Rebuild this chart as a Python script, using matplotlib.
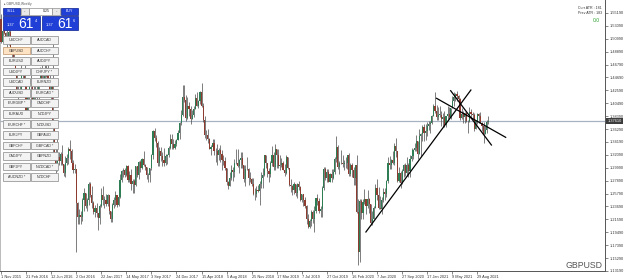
import numpy as np
import pandas as pd
import matplotlib
matplotlib.use("Agg")
import matplotlib.pyplot as plt
from matplotlib.patches import Rectangle
from matplotlib.transforms import blended_transform_factory

plt.rcParams['font.family'] = ['Liberation Sans', 'DejaVu Sans']

# GBPUSD weekly bars, first bar = week of 1 Nov 2015
first_open = 1.5425

close_2015 = [1.5042, 1.5230, 1.5190, 1.5040, 1.5125, 1.5215, 1.4900, 1.4860, 1.4740]
high_2015 = [1.5508, 1.5245, 1.5336, 1.5205, 1.5240, 1.5240, 1.5250, 1.4950, 1.4900]
low_2015 = [1.5027, 1.5030, 1.5170, 1.5015, 1.4895, 1.5000, 1.4880, 1.4800, 1.4710]

close_2016 = [1.4560, 1.4245, 1.4265, 1.4250, 1.4490, 1.4500, 1.4400, 1.3890, 1.4230, 1.4370,
              1.4450, 1.4125, 1.4210, 1.4130, 1.4200, 1.4400, 1.4620, 1.4430, 1.4360, 1.4490,
              1.4630, 1.4400, 1.4260, 1.4350, 1.3680, 1.3150, 1.2950, 1.3170, 1.3110, 1.3230,
              1.3055, 1.2920, 1.3080, 1.3160, 1.3305, 1.3270, 1.3070, 1.2970, 1.2975, 1.2430,
              1.2190, 1.2230, 1.2190, 1.2480, 1.2590, 1.2370, 1.2480, 1.2730, 1.2550, 1.2420,
              1.2280, 1.2340]
high_2016 = [1.4760, 1.4570, 1.4330, 1.4440, 1.4670, 1.4570, 1.4670, 1.4410, 1.4240, 1.4400,
             1.4515, 1.4460, 1.4460, 1.4350, 1.4340, 1.4440, 1.4640, 1.4770, 1.4515, 1.4665,
             1.4725, 1.4690, 1.4590, 1.4385, 1.5020, 1.3690, 1.3330, 1.3480, 1.3260, 1.3250,
             1.3370, 1.3060, 1.3185, 1.3230, 1.3340, 1.3445, 1.3310, 1.3125, 1.3055, 1.2975,
             1.2440, 1.2335, 1.2290, 1.2510, 1.2675, 1.2545, 1.2515, 1.2775, 1.2775, 1.2705,
             1.2460, 1.2400]
low_2016 = [1.4510, 1.4230, 1.4080, 1.4150, 1.4180, 1.4350, 1.4240, 1.3840, 1.3840, 1.4000,
            1.4050, 1.4100, 1.4050, 1.4005, 1.4000, 1.4120, 1.4360, 1.4330, 1.4330, 1.4330,
            1.4470, 1.4350, 1.4180, 1.4010, 1.3230, 1.3120, 1.2800, 1.2960, 1.3050, 1.3050,
            1.3050, 1.2865, 1.2850, 1.3050, 1.3060, 1.3150, 1.3045, 1.2915, 1.2915, 1.1620,
            1.2085, 1.2090, 1.2085, 1.2135, 1.2300, 1.2340, 1.2300, 1.2390, 1.2520, 1.2345,
            1.2250, 1.2200]

close_2017 = [1.2270, 1.2180, 1.2370, 1.2550, 1.2480, 1.2480, 1.2410, 1.2550, 1.2290, 1.2170,
              1.2400, 1.2470, 1.2550, 1.2390, 1.2530, 1.2800, 1.2950, 1.2970, 1.2880, 1.3030,
              1.2800, 1.2880, 1.2740, 1.2780, 1.2720, 1.3030, 1.2880, 1.3100, 1.3000, 1.3140,
              1.3045, 1.3010, 1.2875, 1.2880, 1.2995, 1.3200, 1.3590, 1.3490, 1.3400, 1.3070,
              1.3280, 1.3190, 1.3130, 1.3080, 1.3190, 1.3210, 1.3320, 1.3470, 1.3380, 1.3320,
              1.3380, 1.3450, 1.3570]
high_2017 = [1.2430, 1.2260, 1.2415, 1.2675, 1.2710, 1.2540, 1.2580, 1.2570, 1.2555, 1.2295,
             1.2420, 1.2520, 1.2615, 1.2555, 1.2560, 1.2905, 1.2960, 1.2990, 1.2990, 1.3050,
             1.3045, 1.2940, 1.2980, 1.2810, 1.2815, 1.3030, 1.3030, 1.3115, 1.3125, 1.3165,
             1.3265, 1.3060, 1.3000, 1.2920, 1.3000, 1.3225, 1.3615, 1.3650, 1.3530, 1.3430,
             1.3340, 1.3335, 1.3255, 1.3320, 1.3225, 1.3225, 1.3350, 1.3550, 1.3550, 1.3460,
             1.3445, 1.3460, 1.3615]
low_2017 = [1.2200, 1.1985, 1.2080, 1.2360, 1.2390, 1.2345, 1.2380, 1.2385, 1.2250, 1.2110,
            1.2110, 1.2350, 1.2380, 1.2365, 1.2385, 1.2515, 1.2770, 1.2845, 1.2845, 1.2870,
            1.2770, 1.2770, 1.2635, 1.2590, 1.2590, 1.2695, 1.2850, 1.2810, 1.2930, 1.2985,
            1.3025, 1.2955, 1.2810, 1.2775, 1.2775, 1.2960, 1.3140, 1.3440, 1.3340, 1.3030,
            1.3025, 1.3110, 1.3025, 1.3030, 1.3040, 1.3060, 1.3180, 1.3300, 1.3300, 1.3300,
            1.3310, 1.3360, 1.3465]

close_2018 = [1.3725, 1.3860, 1.4150, 1.4110, 1.3810, 1.4010, 1.3960, 1.3800, 1.3860, 1.3950,
              1.4140, 1.4000, 1.4090, 1.4240, 1.4010, 1.3770, 1.3530, 1.3540, 1.3460, 1.3310,
              1.3340, 1.3405, 1.3270, 1.3270, 1.3200, 1.3290, 1.3230, 1.3130, 1.3110, 1.3000,
              1.2760, 1.2710, 1.2840, 1.2960, 1.2925, 1.3070, 1.3080, 1.3030, 1.3120, 1.3155,
              1.3045, 1.2820, 1.2980, 1.2980, 1.2830, 1.2810, 1.2730, 1.2570, 1.2580, 1.2640,
              1.2620, 1.2740]
high_2018 = [1.3745, 1.3945, 1.4345, 1.4345, 1.4180, 1.4145, 1.4070, 1.4000, 1.3935, 1.4000,
             1.4200, 1.4240, 1.4100, 1.4250, 1.4377, 1.4050, 1.3840, 1.3620, 1.3625, 1.3490,
             1.3370, 1.3470, 1.3470, 1.3315, 1.3380, 1.3320, 1.3365, 1.3290, 1.3215, 1.3170,
             1.3000, 1.2790, 1.2935, 1.3045, 1.3010, 1.3140, 1.3300, 1.3300, 1.3140, 1.3255,
             1.3255, 1.3050, 1.3040, 1.3175, 1.3000, 1.2930, 1.2840, 1.2840, 1.2670, 1.2700,
             1.2720, 1.2785]
low_2018 = [1.3460, 1.3690, 1.3850, 1.4070, 1.3765, 1.3800, 1.3850, 1.3710, 1.3790, 1.3830,
            1.3950, 1.4000, 1.3970, 1.4040, 1.3990, 1.3750, 1.3490, 1.3450, 1.3410, 1.3305,
            1.3205, 1.3310, 1.3205, 1.3100, 1.3050, 1.3130, 1.3100, 1.2960, 1.3050, 1.2960,
            1.2720, 1.2660, 1.2720, 1.2800, 1.2785, 1.2855, 1.3060, 1.3010, 1.2920, 1.3000,
            1.3000, 1.2775, 1.2695, 1.2970, 1.2725, 1.2770, 1.2700, 1.2560, 1.2475, 1.2530,
            1.2600, 1.2400]

close_2019 = [1.2840, 1.2880, 1.3200, 1.3075, 1.2940, 1.2900, 1.3070, 1.3200, 1.3010, 1.3300,
              1.3210, 1.3030, 1.3040, 1.3080, 1.2970, 1.2920, 1.3180, 1.3000, 1.2715, 1.2710,
              1.2630, 1.2740, 1.2590, 1.2740, 1.2690, 1.2475, 1.2570, 1.2470, 1.2370, 1.2160,
              1.2030, 1.2140, 1.2285, 1.2160, 1.2290, 1.2500, 1.2460, 1.2290, 1.2330, 1.2670,
              1.2975, 1.2825, 1.2935, 1.2775, 1.2895, 1.2840, 1.2935, 1.3150, 1.3330, 1.3015,
              1.3070, 1.3085]
high_2019 = [1.2930, 1.2990, 1.3215, 1.3215, 1.3080, 1.2990, 1.3110, 1.3350, 1.3250, 1.3380,
             1.3300, 1.3300, 1.3200, 1.3160, 1.3115, 1.3060, 1.3200, 1.3165, 1.2990, 1.2810,
             1.2725, 1.2765, 1.2740, 1.2750, 1.2785, 1.2700, 1.2580, 1.2580, 1.2520, 1.2400,
             1.2250, 1.2170, 1.2310, 1.2310, 1.2385, 1.2505, 1.2580, 1.2500, 1.2370, 1.2700,
             1.3010, 1.3010, 1.2975, 1.2975, 1.2920, 1.2985, 1.2985, 1.3180, 1.3515, 1.3370,
             1.3115, 1.3285]
low_2019 = [1.2670, 1.2670, 1.2860, 1.3000, 1.2850, 1.2775, 1.2850, 1.3030, 1.2960, 1.2960,
            1.3000, 1.3000, 1.2960, 1.3010, 1.2960, 1.2865, 1.2900, 1.2980, 1.2710, 1.2605,
            1.2560, 1.2580, 1.2540, 1.2505, 1.2630, 1.2465, 1.2440, 1.2380, 1.2350, 1.2080,
            1.2015, 1.2015, 1.2050, 1.2100, 1.1960, 1.2260, 1.2390, 1.2270, 1.2205, 1.2195,
            1.2640, 1.2800, 1.2770, 1.2765, 1.2770, 1.2770, 1.2820, 1.2900, 1.3090, 1.2975,
            1.2905, 1.3055]

close_2020 = [1.3060, 1.3070, 1.3080, 1.3200, 1.2895, 1.3045, 1.2965, 1.2825, 1.3045, 1.2275,
              1.1630, 1.2460, 1.2260, 1.2450, 1.2490, 1.2370, 1.2490, 1.2405, 1.2100, 1.2170,
              1.2340, 1.2665, 1.2560, 1.2350, 1.2335, 1.2475, 1.2610, 1.2565, 1.2790, 1.3085,
              1.3050, 1.3120, 1.3085, 1.3350, 1.3280, 1.2790, 1.2920, 1.2750, 1.2945, 1.3040,
              1.2915, 1.3045, 1.2945, 1.3150, 1.3190, 1.3285, 1.3315, 1.3440, 1.3230, 1.3515,
              1.3555, 1.3670]
high_2020 = [1.3215, 1.3120, 1.3170, 1.3210, 1.3240, 1.3070, 1.3070, 1.3010, 1.3045, 1.3200,
             1.2485, 1.2485, 1.2485, 1.2490, 1.2650, 1.2480, 1.2645, 1.2500, 1.2410, 1.2300,
             1.2375, 1.2730, 1.2810, 1.2690, 1.2535, 1.2530, 1.2670, 1.2665, 1.2805, 1.3170,
             1.3185, 1.3145, 1.3265, 1.3395, 1.3480, 1.3280, 1.3005, 1.2950, 1.2980, 1.3060,
             1.3080, 1.3175, 1.3080, 1.3210, 1.3315, 1.3310, 1.3400, 1.3540, 1.3440, 1.3625,
             1.3560, 1.3690]
low_2020 = [1.3010, 1.2955, 1.3000, 1.2985, 1.2870, 1.2870, 1.2850, 1.2725, 1.2725, 1.2260,
            1.1409, 1.1470, 1.2160, 1.2165, 1.2410, 1.2250, 1.2350, 1.2265, 1.2075, 1.2070,
            1.2165, 1.2345, 1.2470, 1.2335, 1.2330, 1.2250, 1.2440, 1.2480, 1.2520, 1.2750,
            1.2980, 1.2980, 1.3055, 1.3050, 1.3175, 1.2760, 1.2765, 1.2675, 1.2740, 1.2845,
            1.2865, 1.2860, 1.2855, 1.2855, 1.3105, 1.3150, 1.3275, 1.3280, 1.3135, 1.3285,
            1.3190, 1.3430]

close_2021 = [1.3565, 1.3590, 1.3685, 1.3705, 1.3730, 1.3850, 1.4010, 1.3925, 1.3830, 1.3865,
              1.3865, 1.3790, 1.3830, 1.3700, 1.3840, 1.3870, 1.3820, 1.3965, 1.4090, 1.4150,
              1.4205, 1.4160, 1.4115, 1.3805, 1.3880, 1.3825, 1.3890, 1.3760, 1.3760, 1.3900,
              1.3875, 1.3865, 1.3625, 1.3760, 1.3870, 1.3835, 1.3735, 1.3675, 1.3550, 1.3615,
              1.3745, 1.3761]
high_2021 = [1.3705, 1.3710, 1.3745, 1.3760, 1.3765, 1.3865, 1.4040, 1.4240, 1.4015, 1.3990,
             1.4000, 1.3920, 1.3885, 1.3920, 1.3845, 1.4010, 1.3990, 1.3980, 1.4165, 1.4235,
             1.4220, 1.4250, 1.4190, 1.4135, 1.3975, 1.3930, 1.3910, 1.3910, 1.3785, 1.3985,
             1.3950, 1.3910, 1.3890, 1.3780, 1.3890, 1.3890, 1.3915, 1.3750, 1.3750, 1.3675,
             1.3775, 1.3835]
low_2021 = [1.3430, 1.3450, 1.3520, 1.3610, 1.3565, 1.3705, 1.3835, 1.3890, 1.3780, 1.3775,
            1.3830, 1.3675, 1.3670, 1.3670, 1.3670, 1.3800, 1.3815, 1.3800, 1.3990, 1.4010,
            1.4090, 1.4080, 1.4080, 1.3785, 1.3790, 1.3730, 1.3730, 1.3745, 1.3570, 1.3740,
            1.3810, 1.3795, 1.3600, 1.3625, 1.3710, 1.3725, 1.3730, 1.3600, 1.3410, 1.3545,
            1.3570, 1.3710]

close = np.array(close_2015 + close_2016 + close_2017 + close_2018 + close_2019 + close_2020 + close_2021)
high = np.array(high_2015 + high_2016 + high_2017 + high_2018 + high_2019 + high_2020 + high_2021)
low = np.array(low_2015 + low_2016 + low_2017 + low_2018 + low_2019 + low_2020 + low_2021)
opens = np.concatenate([[first_open], close[:-1]])
high = np.maximum(high, np.maximum(opens, close))
low = np.minimum(low, np.minimum(opens, close))

dates = pd.date_range('2015-11-01', periods=len(close), freq='7D')
last_price = 1.3761

# trend lines drawn on the chart (bar index, price)
trend_x = [[232.9, 299.9], [278.0, 322.1], [287.0, 313.0]]
trend_y = [[1.1954, 1.4265], [1.4130, 1.3495], [1.4254, 1.3370]]

price_ticks = [1.55190 - 0.021 * k for k in range(21)]

symbols_left = ['USDCHF', 'GBPUSD', 'EURUSD', 'USDJPY', 'USDCAD', 'AUDUSD', 'EURGBP *',
                'EURAUD', 'EURCHF *', 'EURJPY', 'GBPCHF', 'CADJPY', 'GBPJPY', 'AUDNZD *']
symbols_right = ['AUDCAD', 'AUDCHF', 'AUDJPY', 'CHFJPY *', 'EURNZD', 'EURCAD *', 'CADCHF',
                 'NZDJPY', 'NZDUSD', 'GBPAUD', 'GBPCAD *', 'GBPNZD', 'NZDCAD *', 'NZDCHF']

W, H = 625, 280
fig = plt.figure(figsize=(W / 100, H / 100), dpi=100)
ax = fig.add_axes([0, 9 / H, 605 / W, 271 / H])

idx = np.arange(len(close))
up = close >= opens
body_lo = np.minimum(opens, close)
body_h = np.maximum(np.abs(close - opens), 0.0007)
ax.vlines(idx, low, high, color='#4a4a4a', lw=0.5, zorder=2)
ax.bar(idx, body_h, bottom=body_lo, width=0.75,
       color=np.where(up, '#2f7d55', '#8e3b30'), edgecolor='none', zorder=3)

ax.axhline(last_price, color='#a7b3c3', lw=0.9, zorder=1)
for tx, ty in zip(trend_x, trend_y):
    ax.plot(tx, ty, color='black', lw=0.9, zorder=4)

ax.set_xlim(-0.64, 385.5)
ax.set_ylim(1.13188, 1.57306)

xt = idx[::16]
ax.set_xticks(xt)
ax.set_xticklabels([f"{d.day} {d.strftime('%b %Y')}" for d in dates[xt]],
                   fontsize=2.8, ha='left', color='#333333')
ax.tick_params(axis='x', length=2, width=0.5, pad=1, color='#555555')
ax.yaxis.tick_right()
ax.set_yticks(price_ticks)
ax.set_yticklabels([f"{v:.5f}" for v in price_ticks], fontsize=2.8, color='#333333')
ax.tick_params(axis='y', length=2, width=0.5, pad=1.5, color='#555555')
ax.spines['top'].set_visible(False)
ax.spines['left'].set_color('#b0b0b0')
ax.spines['left'].set_linewidth(0.6)
for s in ['right', 'bottom']:
    ax.spines[s].set_color('#555555')
    ax.spines[s].set_linewidth(0.7)

# last price box on the price scale
tr = blended_transform_factory(ax.transAxes, ax.transData)
ax.text(1.004, last_price, f"{last_price:.5f}", transform=tr, fontsize=2.8, color='white',
        va='center', ha='left', clip_on=False,
        bbox=dict(boxstyle='square,pad=0.25', fc='#3c3c3c', ec='none'))

# overlay in pixel coordinates for the terminal panels
ov = fig.add_axes([0, 0, 1, 1], zorder=10)
ov.set_xlim(0, W)
ov.set_ylim(H, 0)
ov.axis('off')
ov.patch.set_alpha(0)

ov.text(4, 3.5, '\u25b8 GBPUSD,Weekly', fontsize=2.3, color='#555555', va='center')

blue, blue_edge = '#1f3fd6', '#0b1f8f'
ov.add_patch(Rectangle((3, 8), 17, 7, fc=blue, ec=blue_edge, lw=0.5))
ov.text(11.5, 11.5, 'SELL', fontsize=2.6, color='white', ha='center', va='center')
ov.add_patch(Rectangle((21, 8), 8, 7, fc='#e8e8e8', ec='#909090', lw=0.5))
ov.text(25, 11.5, '-', fontsize=3, color='#333333', ha='center', va='center')
ov.add_patch(Rectangle((29, 8), 23, 7, fc='white', ec='#909090', lw=0.5))
ov.text(50, 11.5, '0.25', fontsize=2.6, color='#222222', ha='right', va='center')
ov.add_patch(Rectangle((52, 8), 8, 7, fc='#e8e8e8', ec='#909090', lw=0.5))
ov.text(56, 11.5, '-', fontsize=3, color='#333333', ha='center', va='center')
ov.add_patch(Rectangle((61, 8), 17, 7, fc=blue, ec=blue_edge, lw=0.5))
ov.text(69.5, 11.5, 'BUY', fontsize=2.6, color='white', ha='center', va='center')

for x0, sup in [(3, '4'), (41.5, '6')]:
    ov.add_patch(Rectangle((x0, 15.5), 36.5, 14, fc=blue, ec=blue_edge, lw=0.5))
    ov.text(x0 + 4, 25.5, '1.37', fontsize=2.8, color='white', ha='left', va='baseline')
    ov.text(x0 + 15.5, 27.5, '61', fontsize=10, color='white', ha='left', va='baseline')
    ov.text(x0 + 31.5, 20.5, sup, fontsize=2.8, color='white', ha='left', va='center')

pitch = 10.55
for r, (sl, sr) in enumerate(zip(symbols_left, symbols_right)):
    y0 = 36 + r * pitch
    for x0, name in [(3, sl), (31, sr)]:
        hl = name == 'GBPUSD'
        ov.add_patch(Rectangle((x0, y0), 26.5, 7.8, fc='#fde2c4' if hl else '#f3f3f3',
                               ec='#c8a27a' if hl else '#9a9a9a', lw=0.6))
        ov.text(x0 + 13.25, y0 + 4.1, name, fontsize=2.6, color='#333333',
                ha='center', va='center')

ov.text(602, 8, 'Curr ATR : 181', fontsize=2.6, color='#333333', ha='right', va='center')
ov.text(602, 13.5, 'Prev ATR : 183', fontsize=2.6, color='#333333', ha='right', va='center')
ov.text(600, 21, '0.0', fontsize=3.6, color='#27a02b', ha='right', va='center')
ov.text(603, 265, 'GBPUSD', fontsize=6.3, color='#555555', ha='right', va='center')

fig.savefig('out.png', dpi=100)
